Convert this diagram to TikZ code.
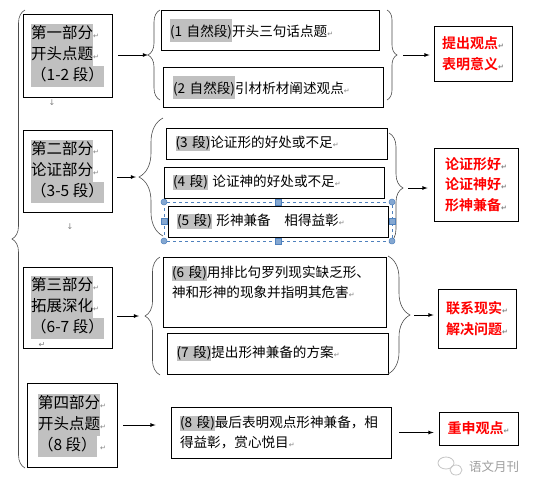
\documentclass[tikz,border=0pt]{standalone}
\usepackage{fontspec}
\setmainfont{Noto Sans CJK SC}[BoldFont={Noto Sans CJK SC Bold}]
\newfontfamily\symfont{DejaVu Sans}
\usetikzlibrary{decorations.pathreplacing}

\definecolor{hlgray}{RGB}{192,192,192}
\definecolor{selblue}{RGB}{79,129,189}

% highlighted text (part boxes / detail boxes / tall ones)
\newcommand{\hlp}[1]{{\setlength{\fboxsep}{0pt}\colorbox{hlgray}{\strut #1}}}
\newcommand{\hl}[1]{{\setlength{\fboxsep}{0pt}\colorbox{hlgray}{\rule[-0.25em]{0pt}{1.05em}#1}}}
\newcommand{\hlbig}[1]{{\setlength{\fboxsep}{0pt}\colorbox{hlgray}{\rule[-5pt]{0pt}{23pt}#1}}}
\newcommand{\ret}{\textcolor{gray}{\symfont\fontsize{7}{7}\selectfont ↵}}

\begin{document}
\begin{tikzpicture}[x=1pt,y=-1pt,
	box/.style 2 args={draw=black, line width=0.8pt, minimum width=#1, minimum height=#2, inner sep=0pt},
	parttext/.style={font=\fontsize{15.5}{21}\selectfont, align=left},
	detailtext/.style={font=\fontsize{13.6}{20}\selectfont, align=left},
	result/.style={font=\fontsize{14}{20.5}\selectfont\bfseries, text=red, align=center},
	arr/.style={-latex, line width=0.8pt},
	brc/.style={decorate, line width=0.6pt, draw=black!70},
	stray/.style={text=gray, font=\symfont\fontsize{8}{8}\selectfont, inner sep=0pt}]
	
	\fill[white] (0,0) rectangle (536,491);
	
	% parts
	\node[box={89pt}{83pt}, parttext] (p1) at (67.5,55.5)  {\hlp{第一部分}\ret\\\hlp{开头点题}\ret\\\hlp{（1-2 段）}};
	\node[box={89pt}{82pt}, parttext] (p2) at (67.5,171)   {\hlp{第二部分}\ret\\\hlp{论证部分}\ret\\\hlp{（3-5 段）}};
	\node[box={89pt}{81pt}, parttext] (p3) at (67.5,307.5) {\hlp{第三部分}\ret\\\hlp{拓展深化}\ret\\\hlp{（6-7 段）}};
	\node[box={90pt}{84pt}, parttext] (p4) at (72,425)     {\hlp{第四部分}\ret\\\hlp{开头点题}\ret\\\hlp{（8 段）}\ \ret};
	
	% paragraphs
	\node[box={218pt}{40pt}, detailtext, text width=200pt] (d1) at (270,30)      {\hlbig{(1 自然段)}开头三句话点题\ret};
	\node[box={220pt}{40pt}, detailtext, text width=200pt] (d2) at (273,87)      {\hlbig{(2 自然段)}引材析材阐述观点\ret};
	\node[box={221pt}{31pt}, detailtext, text width=202pt] (d3) at (276.5,143.5) {\hl{(3 段)}论证形的好处或不足\ret};
	\node[box={220pt}{31pt}, detailtext, text width=202pt] (d4) at (274,182.5)   {\hl{(4 段)} 论证神的好处或不足\ret};
	\node[box={220pt}{31pt}, detailtext, text width=202pt] (d5) at (278,221.5)   {\hl{(5 段)} 形神兼备\quad 相得益彰\ret};
	\node[box={223pt}{70pt}, detailtext, text width=205pt] (d6) at (274.5,292)   {\hl{(6 段)}用排比句罗列现实缺乏形、\\神和形神的现象并指明其危害\ret\\\mbox{}};
	\node[box={221pt}{41pt}, detailtext, text width=202pt] (d7) at (277.5,353.5) {\hl{(7 段)}提出形神兼备的方案\ret};
	\node[box={220pt}{51pt}, detailtext, text width=202pt] (d8) at (281,432.5)   {\hl{(8 段)}最后表明观点形神兼备，相\\得益彰，赏心悦目\ret};
	
	% results
	\node[box={78pt}{55pt}, result] (r1) at (473,53.5)  {提出观点\ret\\表明意义\ret};
	\node[box={84pt}{73pt}, result] (r2) at (476,184.5) {论证形好\ret\\论证神好\ret\\形神兼备\ret};
	\node[box={78pt}{59pt}, result] (r3) at (477,318.5) {联系现实\ret\\解决问题\ret};
	\node[box={79pt}{33pt}, result] (r4) at (478.5,428.5) {重申观点\ret};
	
	% braces
	\draw[brc, decoration={brace, amplitude=13pt}] (25,468) -- (25,10);
	\draw[brc, decoration={brace, amplitude=12pt}] (160,100) -- (160,10);
	\draw[brc, decoration={brace, amplitude=24pt}] (163,236) -- (163,118);
	\draw[brc, decoration={brace, amplitude=15pt}] (160,375) -- (160,257);
	\draw[brc, decoration={brace, amplitude=10pt}] (387,10) -- (387,100);
	\draw[brc, decoration={brace, amplitude=14pt}] (389,133) -- (389,243);
	\draw[brc, decoration={brace, amplitude=22pt}] (388,256) -- (388,374);
	
	\coordinate (b1) at (148,55);
	\coordinate (b2) at (139,177);
	\coordinate (b3) at (145,316);
	\coordinate (c1) at (397,55);
	\coordinate (c2) at (403,188);
	\coordinate (c3) at (410,315);
	
	% arrows
	\draw[arr, shorten <=6pt] (p1.east |- b1) -- (b1);
	\draw[arr, shorten <=5pt, shorten >=3pt] (p2.east |- b2) -- (b2);
	\draw[arr, shorten <=5pt, shorten >=6pt] (p3.east |- b3) -- (b3);
	\draw[arr, shorten <=6pt, shorten >=15pt] (p4.east) -- (p4.east -| d8.west);
	\draw[arr, shorten <=6pt, shorten >=4pt] (c1) -- (c1 -| r1.west);
	\draw[arr, shorten <=5pt, shorten >=6pt] (c2) -- (c2 -| r2.west);
	\draw[arr, shorten <=4pt, shorten >=4pt] (c3) -- (c3 -| r3.west);
	\draw[arr, shorten <=8pt, shorten >=5pt] (d8.east) -- (d8.east -| r4.west);
	
	% selection frame round (5 段)
	\draw[selblue, dashed, line width=0.6pt] (164,202) rectangle (392,241);
	\foreach \p in {(164,202),(392,202),(164,241),(392,241)}
		\filldraw[draw=selblue, fill=selblue!70, line width=0.5pt] \p circle (3pt);
	\foreach \p in {(278,202),(278,241),(164,221.5),(392,221.5)}
		\filldraw[draw=selblue, fill=selblue!70, line width=0.5pt] \p ++(-3,-3) rectangle ++(6,6);
	
	% stray marks
	\node[stray] (m1) at (52,103) {↓};
	\node[stray] (m2) at (70,227) {↓};
	\node[stray] (m3) at (42,345) {↵};
	
	% watermark
	\draw[gray!45, line width=0.8pt] (446,463) ellipse (8pt and 6pt);
	\draw[gray!45, line width=0.8pt] (456,470) ellipse (6pt and 5pt);
	\node[text=gray!75, font=\fontsize{12.5}{14}\selectfont] (wm) at (494,467) {语文月刊};
	
\end{tikzpicture}
\end{document}
